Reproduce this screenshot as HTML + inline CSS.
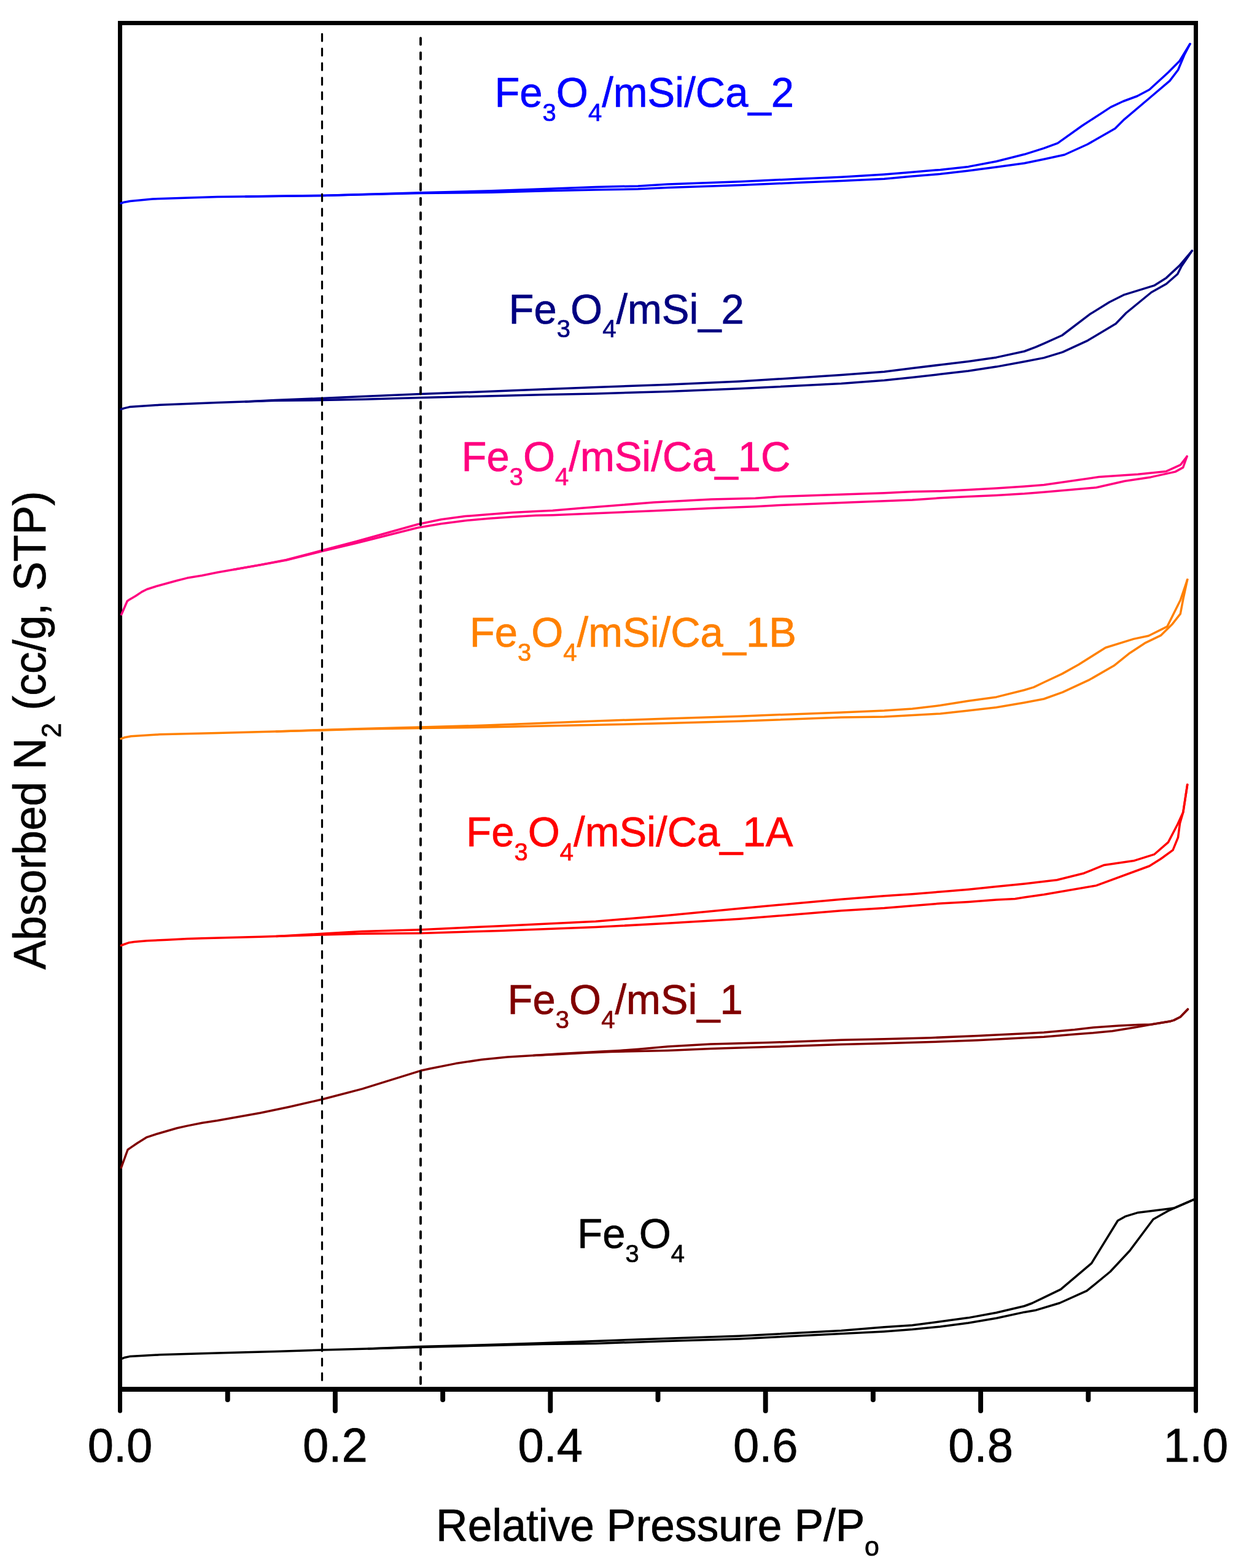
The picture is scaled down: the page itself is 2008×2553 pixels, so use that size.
<!DOCTYPE html>
<html><head><meta charset="utf-8"><title>N2 isotherms</title>
<style>
html,body{margin:0;padding:0;background:#fff;}
svg{display:block;}
text{font-family:"Liberation Sans",Arial,sans-serif;}
</style></head><body>
<svg width="2008" height="2553" viewBox="0 0 2008 2553">
<rect x="0" y="0" width="2008" height="2553" fill="#fff"/>
<g fill="#000">
<rect x="192" y="34" width="1759" height="7"/>
<rect x="192" y="34" width="7" height="2232"/>
<rect x="1944" y="34" width="7" height="2232"/>
<rect x="192" y="2258" width="1759" height="8"/>
</g>
<g stroke="#000" stroke-width="7.9" stroke-linecap="round">
<line x1="195.5" y1="2262" x2="195.5" y2="2297.3" stroke-width="7"/>
<line x1="1947.5" y1="2262" x2="1947.5" y2="2297.3" stroke-width="7"/>
<line x1="370.70" y1="2262" x2="370.70" y2="2279.05"/>
<line x1="545.90" y1="2262" x2="545.90" y2="2297.05"/>
<line x1="721.10" y1="2262" x2="721.10" y2="2279.05"/>
<line x1="896.30" y1="2262" x2="896.30" y2="2297.05"/>
<line x1="1071.50" y1="2262" x2="1071.50" y2="2279.05"/>
<line x1="1246.70" y1="2262" x2="1246.70" y2="2297.05"/>
<line x1="1421.90" y1="2262" x2="1421.90" y2="2279.05"/>
<line x1="1597.10" y1="2262" x2="1597.10" y2="2297.05"/>
<line x1="1772.30" y1="2262" x2="1772.30" y2="2279.05"/>
</g>
<g fill="none" stroke-width="3.5" stroke-linejoin="round" stroke-linecap="round">
<polyline stroke="#0000FF" points="197.0,331.0 202.3,329.2 212.0,327.5 248.5,324.0 354.0,320.4 524.0,318.6 590.0,316.8 685.0,314.5 800.0,313.3 890.0,310.7 970.0,309.1 1039.0,307.7 1087.0,305.6 1204.0,301.6 1296.0,297.5 1370.0,294.6 1440.0,291.2 1485.7,287.1 1531.3,283.3 1577.0,278.0 1622.7,271.9 1668.3,265.8 1700.0,259.2 1733.5,252.0 1771.0,235.0 1816.0,209.3 1831.0,194.3 1871.0,160.5 1905.0,131.6 1918.6,113.7 1928.6,89.8 1938.0,71.5"/>
<polyline stroke="#0000FF" points="1938.0,71.5 1920.6,99.8 1902.7,117.7 1871.8,146.0 1852.0,156.5 1829.0,165.0 1809.0,174.4 1763.0,204.3 1722.5,233.1 1700.0,241.4 1668.3,251.3 1622.7,262.7 1577.0,271.4 1531.3,276.4 1485.7,280.2 1440.0,284.0 1370.0,288.3 1296.0,291.5 1204.0,295.8 1087.0,300.0 1039.0,302.9 970.0,304.4 890.0,307.5 800.0,310.7 685.0,313.8 524.0,318.4 400.0,319.9"/>
<polyline stroke="#000080" points="197.0,666.4 202.5,664.6 211.0,662.6 260.0,659.3 354.0,655.6 448.0,652.3 524.0,651.5 590.0,650.3 685.0,647.5 880.0,642.8 970.0,641.0 1087.0,637.5 1204.0,632.8 1370.0,624.6 1440.0,619.2 1485.7,614.6 1531.3,609.3 1577.0,603.9 1622.7,597.1 1668.3,588.7 1700.0,582.6 1730.4,573.4 1770.0,555.2 1817.2,527.0 1834.0,509.5 1875.0,476.0 1899.4,462.3 1917.7,446.3 1923.8,434.1 1941.3,408.3"/>
<polyline stroke="#000080" points="1941.3,408.3 1920.7,432.6 1899.4,452.4 1879.6,464.9 1830.9,479.8 1806.6,492.0 1774.6,511.8 1729.7,546.0 1700.0,559.4 1686.6,565.1 1668.3,572.0 1622.7,581.9 1577.0,588.4 1531.3,594.0 1485.7,599.4 1440.0,605.2 1370.0,610.5 1204.0,621.1 1087.0,626.2 970.0,630.4 880.0,634.1 685.0,641.6 590.0,645.5 524.0,648.5 448.0,651.5 400.0,654.0"/>
<polyline stroke="#FF0080" points="197.8,1000.5 207.2,978.8 211.3,975.9 221.1,970.2 231.0,963.6 239.2,959.5 255.6,954.2 272.0,949.7 288.4,945.2 304.8,941.1 329.3,937.0 353.9,932.0 424.2,919.8 466.3,912.1 524.4,897.5 580.5,884.3 680.0,859.3 718.6,852.8 757.3,847.7 795.9,844.2 834.6,841.6 873.0,839.3 900.0,838.7 947.0,836.8 1064.0,831.7 1158.0,827.5 1230.0,824.7 1270.0,822.6 1440.0,815.7 1485.7,814.1 1531.3,810.8 1577.0,808.4 1622.7,806.5 1668.3,803.8 1700.0,801.2 1785.5,793.8 1831.9,783.2 1874.0,776.9 1914.0,768.1 1926.7,761.1 1933.0,743.2"/>
<polyline stroke="#FF0080" points="1933.0,743.2 1922.5,756.9 1899.3,767.4 1853.0,772.3 1789.7,776.5 1700.0,789.5 1668.3,792.1 1622.7,795.1 1577.0,797.4 1531.3,799.7 1485.7,800.4 1440.0,802.7 1270.0,808.6 1230.0,811.2 1158.0,813.0 1064.0,818.1 947.0,827.3 900.0,831.3 873.0,832.6 834.6,834.4 795.9,837.4 757.3,840.6 718.6,845.8 680.0,853.7 580.5,881.5 524.4,896.3 466.3,911.5 424.2,919.6 380.0,927.5"/>
<polyline stroke="#FF8000" points="197.0,1202.8 202.5,1200.8 213.4,1198.8 260.3,1195.8 354.0,1193.4 447.6,1191.1 524.4,1188.9 590.0,1187.0 685.0,1185.5 791.0,1184.1 970.0,1180.3 1087.0,1177.5 1204.0,1174.2 1370.0,1168.1 1440.0,1166.9 1485.7,1164.6 1531.3,1161.9 1577.0,1157.0 1622.7,1151.7 1668.3,1144.0 1700.0,1138.0 1730.4,1127.1 1774.6,1106.6 1814.2,1083.8 1840.0,1063.2 1864.4,1047.2 1890.3,1034.7 1908.6,1016.8 1922.3,999.3 1926.8,975.7 1933.7,943.7"/>
<polyline stroke="#FF8000" points="1933.7,943.7 1922.3,977.2 1900.9,1020.1 1870.5,1035.3 1846.1,1040.4 1800.5,1054.5 1756.3,1082.2 1729.7,1097.1 1700.0,1111.0 1683.6,1118.9 1668.3,1123.5 1622.7,1134.9 1577.0,1141.3 1531.3,1148.6 1485.7,1153.9 1440.0,1157.0 1370.0,1159.9 1204.0,1166.2 1087.0,1170.0 970.0,1174.0 791.0,1181.1 685.0,1184.0 590.0,1186.4 524.4,1188.5 450.0,1191.0"/>
<polyline stroke="#FF0000" points="197.4,1539.4 202.3,1537.5 210.5,1534.7 218.7,1533.4 239.2,1531.8 272.0,1530.2 304.8,1528.5 329.3,1527.7 424.0,1525.3 524.4,1522.0 590.0,1520.3 685.0,1519.4 814.0,1515.4 970.0,1509.6 1087.0,1503.3 1204.0,1496.3 1370.0,1482.7 1440.0,1478.6 1485.7,1474.8 1531.3,1471.0 1577.0,1468.4 1622.7,1464.9 1653.0,1463.4 1668.3,1461.1 1700.0,1456.5 1785.2,1441.9 1872.0,1410.0 1890.3,1398.5 1910.1,1384.1 1918.5,1363.5 1921.5,1340.7 1926.8,1322.4 1933.7,1277.5"/>
<polyline stroke="#FF0000" points="1933.7,1277.5 1926.8,1322.4 1917.7,1342.2 1902.5,1371.4 1879.6,1391.2 1846.1,1401.6 1798.2,1408.4 1765.5,1421.7 1721.3,1432.8 1700.0,1435.2 1668.3,1439.0 1622.7,1443.6 1577.0,1448.2 1531.3,1452.0 1485.7,1455.8 1440.0,1458.8 1370.0,1464.2 1204.0,1479.2 1087.0,1490.4 970.0,1500.3 814.0,1507.7 685.0,1513.7 590.0,1516.4 524.4,1520.3 450.0,1524.4"/>
<polyline stroke="#800000" points="197.4,1901.1 208.0,1872.0 211.3,1869.6 222.8,1861.8 239.2,1851.6 255.6,1846.2 272.0,1841.5 288.4,1836.8 304.8,1833.1 329.3,1828.2 354.0,1824.5 424.2,1812.0 471.0,1802.2 524.4,1790.0 590.0,1772.9 685.0,1743.3 700.0,1740.0 742.2,1731.6 784.3,1725.3 826.5,1721.1 868.6,1718.5 910.8,1716.4 953.0,1714.3 995.0,1712.6 1087.0,1710.4 1157.0,1707.6 1251.0,1704.6 1370.0,1700.6 1440.0,1698.8 1516.0,1696.5 1592.0,1693.8 1668.3,1689.7 1700.0,1688.2 1750.0,1683.9 1780.0,1681.8 1811.6,1678.7 1848.5,1672.7 1874.8,1668.0 1906.5,1662.7 1911.7,1661.1 1922.3,1655.8 1934.4,1643.2"/>
<polyline stroke="#800000" points="1934.4,1643.2 1922.3,1655.8 1911.7,1661.1 1906.5,1662.7 1874.8,1668.0 1853.8,1668.5 1822.2,1670.0 1780.0,1673.0 1750.0,1676.5 1700.0,1681.0 1668.3,1682.8 1592.0,1686.6 1516.0,1689.7 1440.0,1691.7 1370.0,1693.3 1251.0,1697.6 1157.0,1699.9 1087.0,1704.1 1040.0,1708.3 1010.0,1710.4 980.0,1712.0 953.0,1713.4 910.8,1715.8 868.6,1718.5"/>
<polyline stroke="#000000" points="198.0,2212.4 203.5,2210.2 211.1,2208.6 260.3,2205.8 354.0,2203.0 447.6,2200.6 524.4,2198.0 590.0,2196.2 685.0,2193.6 814.0,2190.2 884.0,2188.6 970.0,2187.5 1087.0,2183.5 1204.0,2180.0 1370.0,2171.5 1440.0,2167.9 1485.7,2164.6 1531.3,2160.0 1577.0,2153.9 1622.7,2146.3 1668.3,2136.4 1685.6,2133.6 1725.9,2121.5 1770.0,2101.7 1808.1,2070.5 1840.0,2036.2 1878.1,1985.2 1902.5,1971.5 1913.1,1966.7 1943.6,1953.3"/>
<polyline stroke="#000000" points="1943.6,1953.3 1913.1,1966.7 1902.5,1968.2 1852.2,1974.6 1832.4,1980.7 1820.3,1987.5 1777.6,2056.8 1727.4,2099.4 1700.0,2112.6 1680.5,2122.0 1668.3,2126.5 1622.7,2137.2 1577.0,2145.6 1531.3,2151.7 1485.7,2157.7 1440.0,2160.8 1370.0,2166.4 1204.0,2175.3 1087.0,2179.3 970.0,2183.5 884.0,2186.8 814.0,2189.0 685.0,2192.6 600.0,2195.9"/>
</g>
<g stroke="#000" fill="none" stroke-linecap="round">
<line x1="524.5" y1="55.4" x2="524.5" y2="2250" stroke-width="3.2" stroke-dasharray="11.4 12.3"/>
<line x1="685" y1="61.9" x2="685" y2="2254" stroke-width="3.9" stroke-dasharray="10.7 13.0"/>
</g>
<g font-size="76" text-anchor="middle" fill="#000" stroke="#000" stroke-width="0.7">
<text x="195.5" y="2380" transform="matrix(1 0 0 1.035 0 -83.30)">0.0</text>
<text x="545.9" y="2380" transform="matrix(1 0 0 1.035 0 -83.30)">0.2</text>
<text x="896.3" y="2380" transform="matrix(1 0 0 1.035 0 -83.30)">0.4</text>
<text x="1246.7" y="2380" transform="matrix(1 0 0 1.035 0 -83.30)">0.6</text>
<text x="1597.1" y="2380" transform="matrix(1 0 0 1.035 0 -83.30)">0.8</text>
<text x="1947.5" y="2380" transform="matrix(1 0 0 1.035 0 -83.30)">1.0</text>
</g>
<g fill="#000" stroke="#000" stroke-width="0.7">
<text x="710.1" y="2509" font-size="71.4" transform="matrix(1 0 0 1.035 0 -87.81)">Relative Pressure P/P</text>
<text x="1408" y="2533.4" font-size="43" transform="matrix(1 0 0 1.035 0 -88.67)">o</text>
<g transform="translate(74.1,1578.5) rotate(-90) scale(1,1.035)"><text x="0" y="0" font-size="71.4">Absorbed N</text><text x="377.5" y="24.15" font-size="43">2</text><text x="422.1" y="0" font-size="71.4">(cc/g, STP)</text></g>
</g>
<text x="805.4" y="174.0" font-size="67" fill="#0000FF" stroke="#0000FF" stroke-width="0.7" transform="matrix(1 0 0 1.035 0 -6.09)">Fe<tspan font-size="40" dy="22.0">3</tspan><tspan dy="-22.0">O</tspan><tspan font-size="40" dy="22.0">4</tspan><tspan dy="-22.0">/mSi/Ca_2</tspan></text>
<text x="828.6" y="526.7" font-size="67" fill="#000080" stroke="#000080" stroke-width="0.7" transform="matrix(1 0 0 1.035 0 -18.43)">Fe<tspan font-size="40" dy="22.0">3</tspan><tspan dy="-22.0">O</tspan><tspan font-size="40" dy="22.0">4</tspan><tspan dy="-22.0">/mSi_2</tspan></text>
<text x="751.5" y="767.2" font-size="67" fill="#FF0080" stroke="#FF0080" stroke-width="0.7" transform="matrix(1 0 0 1.035 0 -26.85)">Fe<tspan font-size="40" dy="22.0">3</tspan><tspan dy="-22.0">O</tspan><tspan font-size="40" dy="22.0">4</tspan><tspan dy="-22.0">/mSi/Ca_1C</tspan></text>
<text x="764.8" y="1053.3" font-size="67" fill="#FF8000" stroke="#FF8000" stroke-width="0.7" transform="matrix(1 0 0 1.035 0 -36.87)">Fe<tspan font-size="40" dy="22.0">3</tspan><tspan dy="-22.0">O</tspan><tspan font-size="40" dy="22.0">4</tspan><tspan dy="-22.0">/mSi/Ca_1B</tspan></text>
<text x="759.3" y="1378.4" font-size="67" fill="#FF0000" stroke="#FF0000" stroke-width="0.7" transform="matrix(1 0 0 1.035 0 -48.24)">Fe<tspan font-size="40" dy="22.0">3</tspan><tspan dy="-22.0">O</tspan><tspan font-size="40" dy="22.0">4</tspan><tspan dy="-22.0">/mSi/Ca_1A</tspan></text>
<text x="826.6" y="1651.5" font-size="67" fill="#800000" stroke="#800000" stroke-width="0.7" transform="matrix(1 0 0 1.035 0 -57.80)">Fe<tspan font-size="40" dy="22.0">3</tspan><tspan dy="-22.0">O</tspan><tspan font-size="40" dy="22.0">4</tspan><tspan dy="-22.0">/mSi_1</tspan></text>
<text x="940.3" y="2031.9" font-size="67" fill="#000000" stroke="#000000" stroke-width="0.7" transform="matrix(1 0 0 1.035 0 -71.12)">Fe<tspan font-size="40" dy="22.0">3</tspan><tspan dy="-22.0">O</tspan><tspan font-size="40" dy="22.0">4</tspan></text>
</svg>
</body></html>
